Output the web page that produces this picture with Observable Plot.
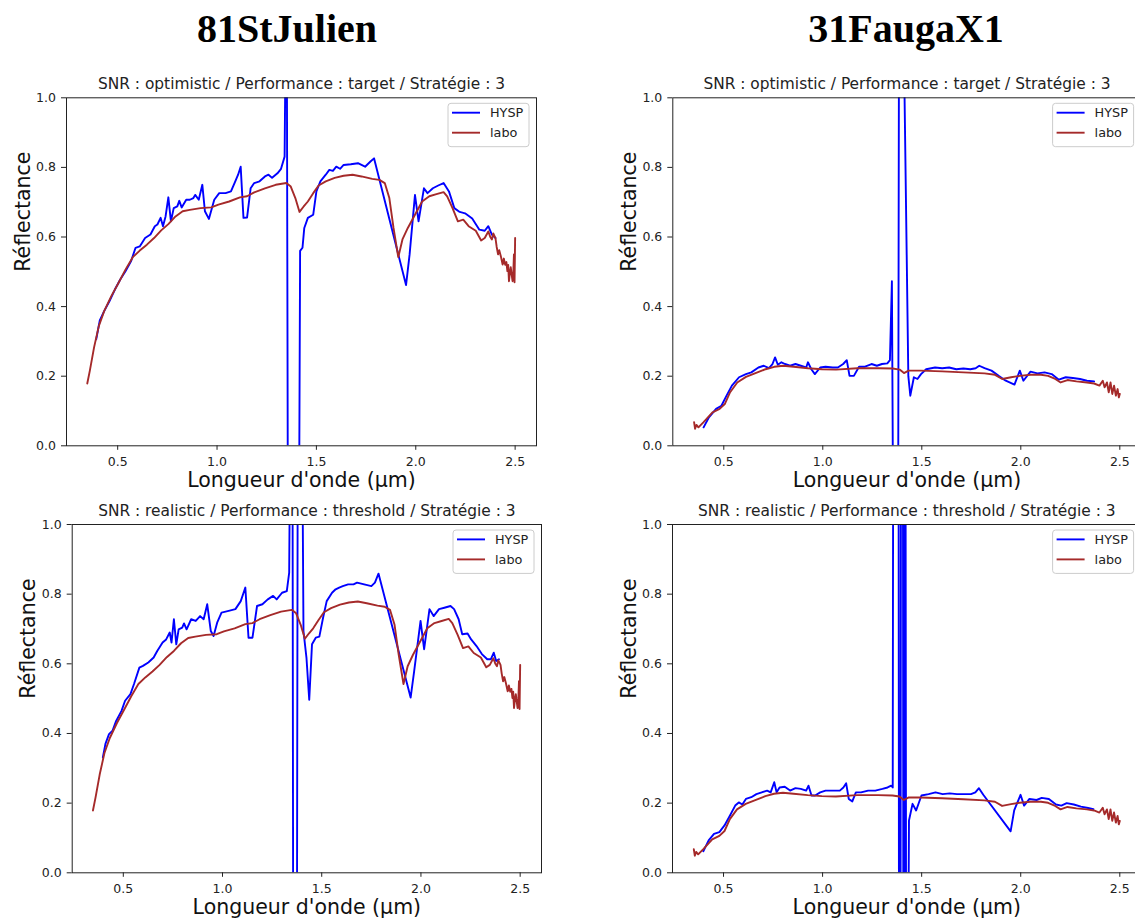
<!DOCTYPE html>
<html><head><meta charset="utf-8">
<script src="https://cdn.jsdelivr.net/npm/d3@7"></script>
<script src="https://cdn.jsdelivr.net/npm/@observablehq/plot@0.6"></script>
<style>
html,body{margin:0;padding:0;background:#fff;overflow:hidden;}
#page{position:relative;width:1135px;height:922px;overflow:hidden;background:#fff;}
.panel{position:absolute;}
.panel svg{max-width:none !important;}
</style></head><body><div id="page"></div>
<script>
// ---------- texts ----------
const sampleNames = ["81StJulien", "31FaugaX1"];
const subtitles = [
  "SNR : optimistic / Performance : target / Stratégie : 3",
  "SNR : realistic / Performance : threshold / Stratégie : 3"
];
const seriesNames = ["HYSP", "labo"];
const seriesColors = ["#0000ff", "#a52a2a"];
const xLabel = "Longueur d'onde (µm)";
const yLabel = "Réflectance";
const xTicks = [0.5, 1.0, 1.5, 2.0, 2.5];
const yTicks = [0, 0.2, 0.4, 0.6, 0.8, 1.0];

// ---------- data: [wavelength µm, reflectance] ----------
const labo81 = [[0.347,0.179],[0.36,0.216],[0.381,0.282],[0.405,0.344],[0.432,0.387],[0.468,0.43],[0.504,0.468],[0.54,0.507],[0.576,0.542],[0.611,0.561],[0.647,0.578],[0.683,0.597],[0.719,0.619],[0.755,0.637],[0.791,0.659],[0.827,0.674],[0.863,0.678],[0.917,0.683],[0.971,0.685],[1.007,0.693],[1.061,0.702],[1.115,0.714],[1.151,0.717],[1.187,0.728],[1.241,0.74],[1.295,0.75],[1.349,0.755],[1.371,0.745],[1.394,0.712],[1.415,0.672],[1.435,0.687],[1.457,0.702],[1.484,0.726],[1.511,0.748],[1.547,0.76],[1.592,0.77],[1.637,0.776],[1.682,0.779],[1.727,0.774],[1.781,0.767],[1.817,0.764],[1.844,0.755],[1.867,0.712],[1.888,0.626],[1.912,0.542],[1.933,0.593],[1.96,0.626],[1.996,0.664],[2.032,0.702],[2.068,0.717],[2.104,0.723],[2.14,0.729],[2.158,0.717],[2.185,0.683],[2.212,0.645],[2.239,0.65],[2.266,0.631],[2.302,0.618],[2.329,0.59],[2.347,0.597],[2.365,0.616],[2.375,0.6],[2.383,0.593],[2.39,0.61],[2.401,0.597],[2.407,0.572],[2.414,0.55],[2.42,0.562],[2.428,0.545],[2.437,0.521],[2.443,0.538],[2.45,0.52],[2.456,0.528],[2.461,0.502],[2.465,0.52],[2.469,0.473],[2.474,0.5],[2.478,0.513],[2.483,0.49],[2.487,0.473],[2.491,0.5],[2.494,0.55],[2.497,0.47],[2.5,0.597]];

const hysp81opt = [[0.392,0.306],[0.41,0.36],[0.432,0.387],[0.459,0.416],[0.486,0.449],[0.513,0.478],[0.54,0.502],[0.567,0.53],[0.59,0.569],[0.611,0.573],[0.638,0.597],[0.665,0.607],[0.687,0.631],[0.70,0.636],[0.716,0.655],[0.728,0.631],[0.741,0.659],[0.755,0.714],[0.768,0.645],[0.782,0.683],[0.80,0.688],[0.81,0.704],[0.822,0.685],[0.845,0.707],[0.863,0.707],[0.881,0.712],[0.89,0.721],[0.908,0.707],[0.926,0.75],[0.939,0.674],[0.959,0.652],[0.986,0.707],[1.011,0.726],[1.043,0.726],[1.07,0.731],[1.088,0.755],[1.106,0.779],[1.119,0.802],[1.133,0.655],[1.151,0.656],[1.169,0.74],[1.187,0.755],[1.214,0.76],[1.241,0.774],[1.259,0.779],[1.277,0.77],[1.304,0.783],[1.322,0.796],[1.34,0.831],[1.35,1.5],[1.358,-0.6],[1.41,-0.6],[1.418,0.56],[1.43,0.569],[1.439,0.626],[1.457,0.655],[1.484,0.664],[1.50,0.731],[1.52,0.76],[1.547,0.779],[1.565,0.793],[1.583,0.79],[1.60,0.802],[1.619,0.796],[1.637,0.807],[1.673,0.809],[1.709,0.812],[1.745,0.802],[1.772,0.817],[1.79,0.826],[1.951,0.462],[1.969,0.55],[1.996,0.721],[2.014,0.645],[2.041,0.74],[2.059,0.726],[2.086,0.74],[2.113,0.748],[2.14,0.755],[2.167,0.731],[2.194,0.683],[2.221,0.672],[2.248,0.668],[2.284,0.653],[2.32,0.621],[2.347,0.618],[2.365,0.631],[2.383,0.607],[2.401,0.597]];

const hysp81real = [[0.397,0.331],[0.41,0.37],[0.428,0.398],[0.446,0.408],[0.464,0.436],[0.491,0.465],[0.509,0.494],[0.536,0.513],[0.554,0.542],[0.581,0.589],[0.599,0.594],[0.626,0.604],[0.653,0.618],[0.671,0.637],[0.698,0.661],[0.716,0.67],[0.734,0.69],[0.743,0.661],[0.755,0.728],[0.767,0.656],[0.779,0.699],[0.797,0.704],[0.806,0.716],[0.819,0.699],[0.842,0.728],[0.865,0.723],[0.887,0.737],[0.905,0.728],[0.923,0.771],[0.941,0.694],[0.955,0.68],[0.973,0.718],[0.995,0.747],[1.031,0.752],[1.065,0.757],[1.092,0.78],[1.115,0.819],[1.131,0.675],[1.151,0.675],[1.174,0.766],[1.201,0.771],[1.228,0.785],[1.255,0.795],[1.273,0.785],[1.30,0.804],[1.324,0.809],[1.336,0.862],[1.345,1.6],[1.352,1.6],[1.357,-0.6],[1.374,-0.6],[1.38,1.6],[1.398,1.6],[1.408,0.694],[1.423,0.618],[1.437,0.497],[1.451,0.656],[1.47,0.675],[1.488,0.678],[1.507,0.733],[1.525,0.78],[1.552,0.804],[1.57,0.814],[1.588,0.819],[1.606,0.823],[1.633,0.828],[1.66,0.828],[1.678,0.833],[1.714,0.828],[1.75,0.823],[1.768,0.833],[1.786,0.859],[1.948,0.503],[1.966,0.58],[1.998,0.723],[2.016,0.642],[2.043,0.757],[2.064,0.737],[2.091,0.757],[2.118,0.761],[2.149,0.766],[2.167,0.757],[2.19,0.728],[2.208,0.685],[2.235,0.687],[2.253,0.67],[2.28,0.651],[2.307,0.628],[2.334,0.613],[2.352,0.613],[2.367,0.632],[2.379,0.608],[2.393,0.613]];

const labo31 = [[0.35,0.068],[0.355,0.049],[0.362,0.06],[0.372,0.053],[0.398,0.068],[0.443,0.096],[0.479,0.106],[0.505,0.12],[0.532,0.154],[0.568,0.182],[0.612,0.198],[0.657,0.208],[0.711,0.22],[0.755,0.227],[0.80,0.23],[0.853,0.227],[0.925,0.223],[0.996,0.22],[1.067,0.219],[1.174,0.223],[1.281,0.223],[1.353,0.222],[1.388,0.219],[1.41,0.209],[1.433,0.216],[1.496,0.216],[1.603,0.214],[1.71,0.211],[1.817,0.208],[1.87,0.204],[1.906,0.192],[1.951,0.197],[1.995,0.201],[2.049,0.204],[2.102,0.204],[2.138,0.201],[2.174,0.192],[2.201,0.182],[2.236,0.189],[2.281,0.185],[2.334,0.182],[2.37,0.179],[2.397,0.173],[2.414,0.187],[2.423,0.168],[2.435,0.182],[2.444,0.154],[2.453,0.182],[2.462,0.149],[2.471,0.173],[2.48,0.144],[2.489,0.163],[2.495,0.139],[2.5,0.149]];

const hysp31opt = [[0.398,0.053],[0.425,0.082],[0.461,0.106],[0.488,0.115],[0.514,0.144],[0.541,0.173],[0.577,0.197],[0.612,0.206],[0.639,0.211],[0.675,0.225],[0.702,0.23],[0.728,0.223],[0.746,0.235],[0.759,0.254],[0.773,0.233],[0.791,0.24],[0.809,0.235],[0.835,0.23],[0.862,0.235],[0.889,0.23],[0.916,0.225],[0.925,0.24],[0.942,0.22],[0.96,0.206],[0.987,0.225],[1.014,0.227],[1.05,0.225],[1.076,0.225],[1.103,0.235],[1.121,0.246],[1.135,0.201],[1.157,0.201],[1.183,0.227],[1.21,0.227],[1.246,0.235],[1.273,0.23],[1.299,0.235],[1.326,0.237],[1.339,0.246],[1.349,0.473],[1.357,-0.4],[1.38,-0.4],[1.386,1.6],[1.408,1.6],[1.413,1.0],[1.432,0.2],[1.442,0.144],[1.46,0.197],[1.478,0.192],[1.496,0.206],[1.522,0.22],[1.567,0.225],[1.603,0.223],[1.638,0.225],[1.674,0.22],[1.71,0.222],[1.745,0.22],[1.772,0.223],[1.79,0.23],[1.817,0.223],[1.852,0.216],[1.888,0.201],[1.924,0.187],[1.968,0.176],[1.995,0.216],[2.013,0.187],[2.049,0.213],[2.084,0.208],[2.12,0.211],[2.156,0.206],[2.192,0.19],[2.227,0.197],[2.263,0.195],[2.299,0.192],[2.334,0.187],[2.37,0.185]];

const hysp31real = [[0.398,0.062],[0.425,0.093],[0.452,0.112],[0.479,0.117],[0.505,0.136],[0.532,0.164],[0.559,0.193],[0.577,0.202],[0.595,0.196],[0.613,0.212],[0.64,0.217],[0.666,0.226],[0.693,0.231],[0.72,0.236],[0.738,0.231],[0.756,0.26],[0.768,0.231],[0.783,0.245],[0.809,0.247],[0.836,0.236],[0.863,0.243],[0.89,0.241],[0.917,0.236],[0.929,0.25],[0.944,0.222],[0.962,0.222],[0.988,0.231],[1.015,0.236],[1.051,0.236],[1.087,0.236],[1.105,0.245],[1.119,0.257],[1.132,0.212],[1.15,0.205],[1.168,0.231],[1.194,0.231],[1.23,0.236],[1.266,0.236],[1.302,0.241],[1.328,0.245],[1.346,0.25],[1.354,0.245],[1.357,1.6],[1.383,1.6],[1.386,-0.5],[1.393,-0.5],[1.396,1.6],[1.405,1.6],[1.408,-0.5],[1.412,-0.5],[1.414,1.6],[1.418,1.6],[1.422,-0.5],[1.43,-0.5],[1.436,0.15],[1.454,0.198],[1.472,0.179],[1.499,0.222],[1.535,0.226],[1.57,0.231],[1.606,0.226],[1.642,0.228],[1.678,0.226],[1.714,0.226],[1.749,0.226],[1.771,0.231],[1.789,0.243],[1.811,0.224],[1.949,0.119],[1.967,0.179],[1.999,0.224],[2.017,0.193],[2.044,0.212],[2.08,0.209],[2.106,0.215],[2.142,0.212],[2.178,0.196],[2.205,0.193],[2.232,0.2],[2.268,0.196],[2.304,0.19],[2.34,0.186],[2.367,0.183]];

// ---------- layout ----------
const panels = [
  {hysp: hysp81opt,  labo: labo81, sub: 0, left: 0,   top: 50,  width: 560, height: 450, ml: 66,   mr: 24,   mt: 47.3, mb: 54.7},
  {hysp: hysp31opt,  labo: labo31, sub: 0, left: 580, top: 50,  width: 575, height: 450, ml: 92.3, mr: 14.4, mt: 47.3, mb: 54.7},
  {hysp: hysp81real, labo: labo81, sub: 1, left: 0,   top: 480, width: 560, height: 442, ml: 71.7, mr: 19,   mt: 44,   mb: 49.7},
  {hysp: hysp31real, labo: labo31, sub: 1, left: 580, top: 480, width: 575, height: 442, ml: 92,   mr: 14.4, mt: 44,   mb: 49.7}
];
const titlePos = [{x: 287, y: 42}, {x: 906, y: 42}];

const page = document.getElementById("page");
const fmt = d => d.toFixed(1);

for (const p of panels) {
  const chart = Plot.plot({
    width: p.width, height: p.height,
    marginLeft: p.ml, marginRight: p.mr, marginTop: p.mt, marginBottom: p.mb,
    x: {domain: [0.2425, 2.6075]},
    y: {domain: [0, 1]},
    style: {background: "transparent", overflow: "visible", fontFamily: "DejaVu Sans", fontSize: "12.5px", color: "#222", maxWidth: "none"},
    marks: [
      Plot.line(p.hysp, {x: d => d[0], y: d => d[1], stroke: seriesColors[0], strokeWidth: 1.9, clip: true}),
      Plot.line(p.labo, {x: d => d[0], y: d => d[1], stroke: seriesColors[1], strokeWidth: 1.9, clip: true}),
      Plot.axisX({ticks: xTicks, tickFormat: fmt, tickSize: 4.5, tickPadding: 7, label: null, fontSize: 12.5}),
      Plot.axisY({ticks: yTicks, tickFormat: fmt, tickSize: 5, tickPadding: 5.5, label: null, fontSize: 12.5}),
      Plot.frame({stroke: "#222", strokeWidth: 1}),
      Plot.text([subtitles[p.sub]], {text: d => d, frameAnchor: "top", dy: -8.5, lineAnchor: "bottom", fontSize: 15.4, fill: "#222"}),
      Plot.text([xLabel], {text: d => d, frameAnchor: "bottom", dy: 41, lineAnchor: "bottom", fontSize: 20.5, fill: "#111"}),
      Plot.text([yLabel], {text: d => d, frameAnchor: "left", dx: -37, rotate: -90, lineAnchor: "bottom", fontSize: 20.5, fill: "#111"})
    ]
  });
  chart.style.maxWidth = "none";
  chart.setAttribute("width", p.width);
  chart.setAttribute("height", p.height);
  const div = document.createElement("div");
  div.className = "panel";
  div.style.left = p.left + "px";
  div.style.top = p.top + "px";
  div.style.width = p.width + "px";
  div.style.height = p.height + "px";
  div.appendChild(chart);
  page.appendChild(div);
}

// ---------- overlay: column titles and legends ----------
const ov = d3.select(page).append("svg")
  .attr("width", 1135).attr("height", 922)
  .style("position", "absolute").style("left", "0px").style("top", "0px")
  .style("pointer-events", "none");

ov.selectAll("text.title").data(sampleNames).join("text")
  .attr("class", "title")
  .attr("x", (d, i) => titlePos[i].x).attr("y", (d, i) => titlePos[i].y)
  .attr("text-anchor", "middle")
  .style("font-family", "'Liberation Serif', serif").style("font-weight", "bold").style("font-size", "40px")
  .attr("fill", "#000")
  .text(d => d);

for (const p of panels) {
  const R = p.left + p.width - p.mr;
  const T = p.top + p.mt;
  const g = ov.append("g");
  g.append("rect").attr("x", R - 88).attr("y", T + 6).attr("width", 81).attr("height", 43.4)
    .attr("rx", 3).attr("fill", "#fff").attr("fill-opacity", 0.8).attr("stroke", "#cccccc").attr("stroke-width", 1);
  seriesNames.forEach((name, i) => {
    const yy = T + 15.4 + i * 20;
    g.append("line").attr("x1", R - 84).attr("x2", R - 56).attr("y1", yy).attr("y2", yy)
      .attr("stroke", seriesColors[i]).attr("stroke-width", 1.9);
    g.append("text").attr("x", R - 46).attr("y", yy).attr("dy", "0.35em")
      .style("font-family", "DejaVu Sans").style("font-size", "12.8px").attr("fill", "#222").text(name);
  });
}
</script>
</body></html>
